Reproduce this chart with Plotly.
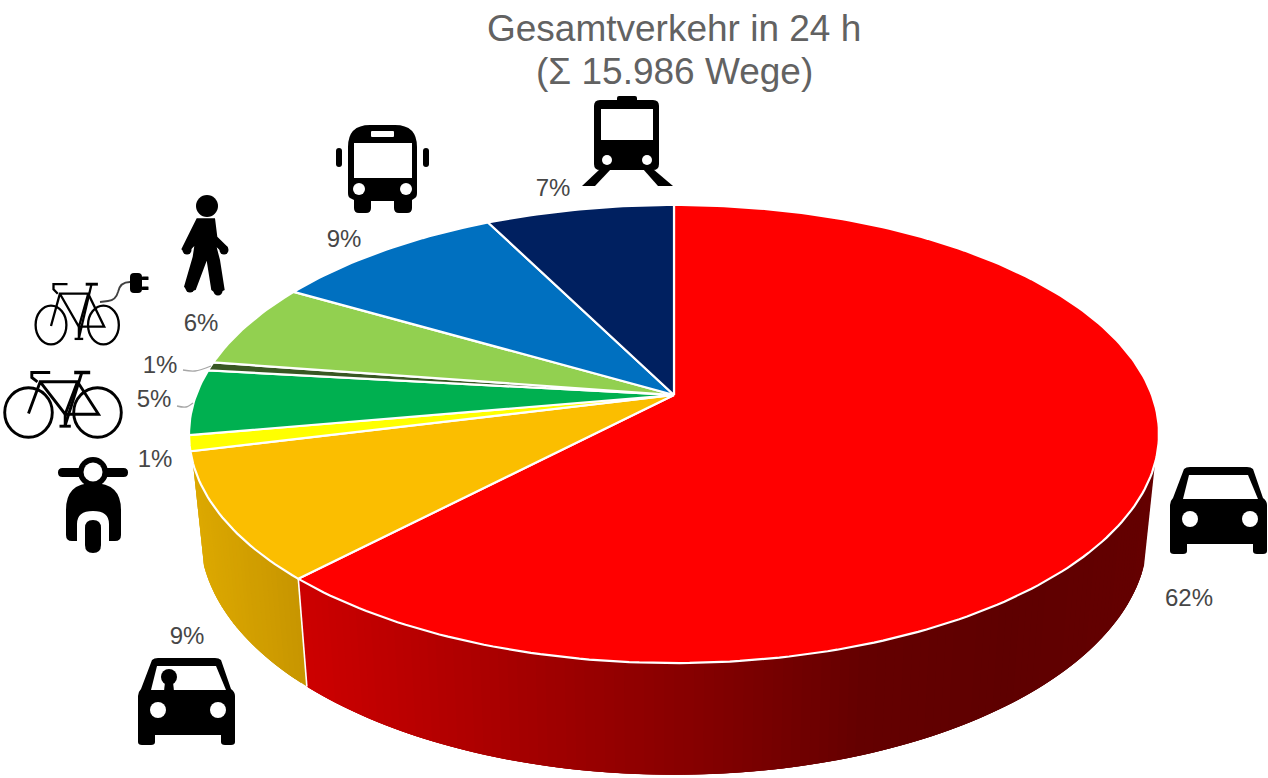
import math
import plotly.graph_objects as go

# ---- data -------------------------------------------------------------
modes = ["Pkw Fahrer", "Pkw Mitfahrer", "Motorrad", "Fahrrad", "Pedelec", "Zu Fuß", "Bus", "Bahn"]
shares = [62.1, 9.0, 1.1, 4.6, 0.6, 6.0, 9.2, 7.4]
labels = ["62%", "9%", "1%", "5%", "1%", "6%", "9%", "7%"]
title_lines = ["Gesamtverkehr in 24 h", "(Σ 15.986 Wege)"]

# ---- styles and layout ---------------------------------------------------
top_colors = ["#FF0000", "#FBBE00", "#FFFF00", "#00B050", "#385723", "#92D050", "#0070C0", "#002060"]
label_x = [1189, 187, 155, 154, 160, 201, 344, 553]
label_y = [600, 638, 461, 401, 367, 325, 241, 190]
W, H = 1268, 778
CX = 674
P = 0.1703
TOP = dict(y0=395.0, a=477.9, b=222.4)
BOT = dict(y0=494.0, a=467.0, b=233.0)
SIDE_FROM, SIDE_TO = 107.0, 253.0
RED_STOPS = [(310, (204, 0, 0)), (520, (165, 0, 0)), (692, (134, 0, 0)), (864, (100, 0, 0)), (1008, (94, 0, 0)),
             (1150, (100, 0, 0))]
ORANGE_STOPS = [(190, (222, 170, 0)), (300, (200, 150, 0))]


def project(theta_deg, g):
    t = math.radians(theta_deg)
    X, Y = math.sin(t), math.cos(t)
    w = 1 + P * Y
    return CX + g["a"] * X / w, g["y0"] - g["b"] * Y / w


def ramp(stops, x):
    if x <= stops[0][0]:
        c = stops[0][1]
    elif x >= stops[-1][0]:
        c = stops[-1][1]
    else:
        for (x0, c0), (x1, c1) in zip(stops, stops[1:]):
            if x0 <= x <= x1:
                f = (x - x0) / (x1 - x0)
                c = tuple(c0[i] + f * (c1[i] - c0[i]) for i in range(3))
                break
    return "rgb(%d,%d,%d)" % tuple(round(v) for v in c)


fig = go.Figure()


def poly(xs, ys, fill, line=None, lw=0):
    fig.add_trace(go.Scatter(x=xs, y=ys, mode="lines", fill="toself", fillcolor=fill,
                             line=dict(color=line or fill, width=lw),
                             hoverinfo="skip", showlegend=False))


def wall(t_from, t_to, stops):
    """Shaded wall: overlapping narrow strips, each one covering the end of the last."""
    step = 1.0
    t = t_from
    while t < t_to:
        t2 = min(t + 3 * step, t_to)
        pts_top = [project(t + (t2 - t) * k / 3, TOP) for k in range(4)]
        pts_bot = [project(t + (t2 - t) * k / 3, BOT) for k in range(4)]
        ring_pts = pts_top + pts_bot[::-1]
        xm = (project(t + step / 2, TOP)[0] + project(t + step / 2, BOT)[0]) / 2
        poly([p[0] for p in ring_pts] + [ring_pts[0][0]], [p[1] for p in ring_pts] + [ring_pts[0][1]], ramp(stops, xm))
        t += step


red_end = shares[0] * 3.6
wall(SIDE_FROM, red_end, RED_STOPS)
wall(red_end, SIDE_TO, ORANGE_STOPS)
# seam between the two walls
a1, b1 = project(red_end, TOP), project(red_end, BOT)
fig.add_trace(go.Scatter(x=[a1[0], b1[0]], y=[a1[1], b1[1]], mode="lines", line=dict(color="white", width=1.6),
                         hoverinfo="skip", showlegend=False))

# top face
cum = 0.0
for share, col in zip(shares, top_colors):
    start, end = cum * 3.6, (cum + share) * 3.6
    cum += share
    steps = max(3, int((end - start) / 1.0))
    pts = [project(start + (end - start) * k / steps, TOP) for k in range(steps + 1)]
    xs = [CX] + [p[0] for p in pts] + [CX]
    ys = [TOP["y0"]] + [p[1] for p in pts] + [TOP["y0"]]
    poly(xs, ys, col, "white", 2.2)

# percent labels
fig.add_trace(go.Scatter(x=label_x, y=label_y, mode="text", text=labels, textposition="middle center",
                         textfont=dict(family="Liberation Sans, Arial", size=24, color="#464646"),
                         hoverinfo="skip", showlegend=False))
# leader lines
for lx, ly in ([[183, 195, 211], [370, 371, 366]], [[177, 186, 193], [406, 407, 403]]):
    fig.add_trace(go.Scatter(x=lx, y=ly, mode="lines", line=dict(color="#A6A6A6", width=1.3, shape="spline"),
                             hoverinfo="skip", showlegend=False))

# ---- icons --------------------------------------------------------------
shapes = []


def path_poly(pts):
    return "M" + " L".join("%.1f,%.1f" % p for p in pts) + " Z"


def rrect(x0, y0, x1, y1, r):
    return (f"M{x0+r},{y0} L{x1-r},{y0} Q{x1},{y0} {x1},{y0+r} L{x1},{y1-r} Q{x1},{y1} {x1-r},{y1} "
            f"L{x0+r},{y1} Q{x0},{y1} {x0},{y1-r} L{x0},{y0+r} Q{x0},{y0} {x0+r},{y0} Z")


def solid(path, color="black"):
    shapes.append(dict(type="path", path=path, xref="x", yref="y", fillcolor=color, line=dict(width=0)))


def stroke(pts, width=2.5, color="black"):
    shapes.append(dict(type="path", path="M" + " L".join("%.1f,%.1f" % p for p in pts), xref="x", yref="y",
                       fillcolor="rgba(0,0,0,0)", line=dict(color=color, width=width)))


def disc(cx, cy, r, color="black"):
    shapes.append(dict(type="circle", x0=cx - r, x1=cx + r, y0=cy - r, y1=cy + r, xref="x", yref="y",
                       fillcolor=color, line=dict(width=0)))


def ring(cx, cy, rx, ry, width):
    shapes.append(dict(type="circle", x0=cx - rx, x1=cx + rx, y0=cy - ry, y1=cy + ry, xref="x", yref="y",
                       fillcolor="rgba(0,0,0,0)", line=dict(color="black", width=width)))


def car(x, y):
    solid(f"M{x+14},{y+2} Q{x+16},{y} {x+20},{y} L{x+77},{y} Q{x+81},{y} {x+83},{y+2} L{x+93},{y+31} "
          f"Q{x+97},{y+34} {x+97},{y+38} L{x+97},{y+84} Q{x+97},{y+87} {x+93},{y+87} L{x+87},{y+87} "
          f"Q{x+83},{y+87} {x+83},{y+84} L{x+83},{y+77} L{x+17},{y+77} L{x+17},{y+84} Q{x+17},{y+87} {x+13},{y+87} "
          f"L{x+4},{y+87} Q{x},{y+87} {x},{y+84} L{x},{y+38} Q{x},{y+34} {x+3},{y+31} Z")
    solid(path_poly([(x + 19, y + 8), (x + 78, y + 8), (x + 88, y + 32), (x + 13, y + 32)]), "white")
    disc(x + 20, y + 52, 8, "white")
    disc(x + 80, y + 52, 8, "white")


car(1170, 467)
car(138, 658)
disc(169, 677, 8)
solid(path_poly([(165, 682), (173, 682), (174, 691), (164, 691)]))

# bus
solid(f"M354,208 L354,200 L350,198 Q348,197 348,193 L348,147 Q348,125 370,125 L395,125 Q417,125 417,147 L417,193 "
      f"Q417,197 415,198 L412,200 L412,208 Q412,213 407,213 L399,213 Q394,213 394,208 L394,201 L371,201 L371,208 "
      f"Q371,213 366,213 L359,213 Q354,213 354,208 Z")
solid(rrect(354, 143, 412, 178, 0), "white")
solid(rrect(371, 131, 394, 137, 1), "white")
disc(359, 189, 6, "white")
disc(406, 189, 6, "white")
solid(rrect(336, 148, 342, 167, 3))
solid(rrect(423, 148, 429, 167, 3))

# train
solid(rrect(617, 96, 637, 104, 2))
solid(rrect(594, 100, 659, 170, 6))
solid(rrect(601, 109, 653, 140, 0), "white")
disc(607, 160, 5, "white")
disc(647, 160, 5, "white")
solid(path_poly([(600, 169), (611, 169), (595, 186), (582, 186)]))
solid(path_poly([(643, 169), (653, 169), (673, 186), (658, 186)]))

# pedestrian
disc(207, 206, 11)
walker = [(590, 385), (645, 385), (652, 440), (684, 472), (672, 492), (650, 472), (660, 510), (674, 600), (650, 612),
          (634, 600), (620, 512), (587, 600), (565, 606), (552, 590), (578, 500), (583, 468), (560, 492), (544, 478),
          (575, 415)]
solid(path_poly([(x / 3, 90 + y / 3) for x, y in walker]))
for hx, hy in [(187, 250), (224, 250), (190, 288), (218, 291)]:
    disc(hx, hy, 4.5)

# moped
solid(rrect(58, 468, 128, 477, 4.5))
disc(93, 472, 15)
disc(93, 472, 9.5, "white")
solid("M66,535 Q66,541 72,541 L77,541 L77,524 Q77,511 93,511 Q109,511 109,524 L109,541 L115,541 Q121,541 121,535 "
      "L121,510 Q121,483 93,483 Q66,483 66,510 Z")
solid(rrect(85, 520, 101, 553, 8))


def bike(ox, oy, sx, sy, lw, rx, ry):
    def m(px, py):  # zoomed reference-bike units relative to the left wheel hub
        return (ox + sx * (px - 85) / 3, oy + sy * (py - 217) / 3)

    ring(ox, oy, rx, ry, lw)
    ring(ox + sx * 69, oy, rx, ry, lw)
    stroke([m(85, 220), m(120, 125), m(232, 125), m(195, 222), m(120, 125)], lw)
    stroke([m(245, 97), m(195, 255)], lw)
    stroke([m(232, 125), m(295, 222), m(195, 222)], lw)
    stroke([m(195, 222), m(195, 258)], lw)
    stroke([m(178, 258), m(212, 258)], lw)
    stroke([m(222, 97), m(270, 97)], lw + 0.6)
    stroke([m(150, 97), m(95, 97), m(95, 112), m(112, 125)], lw)


bike(28.5, 412.5, 1.0, 1.0, 2.9, 23.8, 24.8)
bike(51, 325, 0.76, 1.02, 2.3, 15.4, 19.4)
# plug and cable
shapes.append(dict(type="path", path="M100,302 L108,301 Q116,300 118,292 Q120,282 130,282", xref="x", yref="y",
                   fillcolor="rgba(0,0,0,0)", line=dict(color="#404040", width=1.8)))
solid(rrect(130, 273, 142, 293, 4))
solid(rrect(142, 276.5, 148.5, 280, 0.5))
solid(rrect(142, 286.5, 148.5, 290, 0.5))

annotations = [
    dict(x=CX, y=yy, xref="x", yref="y", text=t, showarrow=False, xanchor="center", yanchor="middle",
         font=dict(family="Liberation Sans, Arial", size=37, color="#626262"))
    for t, yy in zip(title_lines, [28, 71])
]

fig.update_layout(
    width=W, height=H, margin=dict(l=0, r=0, t=0, b=0), paper_bgcolor="white", plot_bgcolor="white",
    showlegend=False, shapes=shapes, annotations=annotations,
    xaxis=dict(range=[0, W], visible=False, fixedrange=True),
    yaxis=dict(range=[H, 0], visible=False, fixedrange=True),
)
fig.write_html("out.html", post_script="document.body.style.margin='0';", config={"displayModeBar": False})
